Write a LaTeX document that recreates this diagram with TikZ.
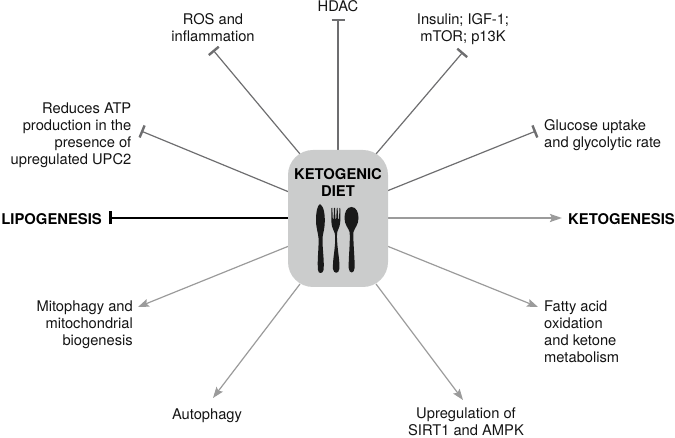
\documentclass[tikz,border=0pt]{standalone}
\usepackage{fontspec}
\setmainfont{TeX Gyre Heros}
\usetikzlibrary{arrows.meta}
\definecolor{boxgray}{RGB}{203,204,204}
\definecolor{inhib}{RGB}{110,110,112}
\definecolor{activ}{RGB}{155,155,155}
\definecolor{ink}{RGB}{20,20,20}
\tikzset{
  lab/.style={font=\fontsize{14.7}{16.9}\selectfont,text=ink,inner sep=0pt,align=#1},
  lab/.default=left,
  bold lab/.style={font=\fontsize{14.8}{17}\bfseries\selectfont,text=black,inner sep=0pt,align=center},
  inh/.style={draw=inhib,line width=1.2pt,-{Bar[width=13pt,line width=2.4pt]}},
  act/.style={draw=activ,line width=1.2pt,-{Stealth[length=11pt,width=8pt,inset=2pt]}},
  inhstrong/.style={draw=black,line width=2pt,-{Bar[width=13pt,line width=2.6pt]}},
  actstrong/.style={draw=activ,line width=2pt,-{Stealth[length=12pt,width=8pt,inset=2pt]}},
  cutlery/.style={fill=black!90,draw=none},
}
\begin{document}
\begin{tikzpicture}[x=1pt,y=-1pt]
\useasboundingbox (0,0) rectangle (675,438);
% free ends
\coordinate (eHDAC) at (338,19);
\coordinate (eROS) at (213,50);
\coordinate (eINS) at (463,52);
\coordinate (eATP) at (141,131);
\coordinate (eGLU) at (536,131);
\coordinate (eLIP) at (109,218);
\coordinate (eKET) at (562,218);
\coordinate (eMIT) at (138,307);
\coordinate (eAUT) at (213,398);
\coordinate (eUPR) at (463,400);
\coordinate (eFAT) at (538,307);
% starts on the box
\coordinate (sHDAC) at (338,152);
\coordinate (sROS) at (300,154);
\coordinate (sINS) at (376,154);
\coordinate (sATP) at (289,192);
\coordinate (sGLU) at (387,191);
\coordinate (sLIP) at (289,218);
\coordinate (sKET) at (387,218);
\coordinate (sMIT) at (289,246);
\coordinate (sAUT) at (300,284);
\coordinate (sUPR) at (376,284);
\coordinate (sFAT) at (387,246);
\draw[inh] (sHDAC) -- (eHDAC);
\draw[inh] (sROS) -- (eROS);
\draw[inh] (sINS) -- (eINS);
\draw[inh] (sATP) -- (eATP);
\draw[inh] (sGLU) -- (eGLU);
\draw[inhstrong] (sLIP) -- (eLIP);
\draw[actstrong] (sKET) -- (eKET);
\draw[act] (sMIT) -- (eMIT);
\draw[act] (sAUT) -- (eAUT);
\draw[act] (sUPR) -- (eUPR);
\draw[act] (sFAT) -- (eFAT);
% box
\node[fill=boxgray,rounded corners=25pt,minimum width=100pt,minimum height=137pt,inner sep=0pt] (box) at (338,218.5) {};
\node[bold lab] (title) at (338,182.5) {KETOGENIC\\DIET};
% knife
\path[cutlery] (320,204) .. controls (324,206) and (325.5,216) .. (324.5,226)
  .. controls (324,232) and (322.5,234) .. (322.5,240)
  .. controls (322.5,250) and (324.5,262) .. (323.5,270)
  .. controls (323,274) and (318,274) .. (318,270)
  .. controls (317,260) and (319,248) .. (318.5,238)
  .. controls (318,232) and (316,228) .. (316,220)
  .. controls (316,212) and (317.5,205) .. (320,204) -- cycle;
% fork
\path[cutlery] (331.5,208) -- (332.3,208) -- (332.8,219) -- (333.6,219) -- (334,208) -- (335,208) -- (335.4,219) -- (336.2,219) -- (336.8,208) -- (337.6,208) -- (338.2,219) -- (339,219) -- (339.5,208) -- (340.2,208)
  .. controls (340.8,218) and (340.5,226) .. (338,230)
  .. controls (336.8,232) and (336.8,236) .. (337.2,242)
  .. controls (337.8,252) and (340,262) .. (339.3,269)
  .. controls (339,274) and (333.5,274) .. (333,269)
  .. controls (332.5,260) and (335,250) .. (335.2,240)
  .. controls (335.4,234) and (334.6,232) .. (333.4,230)
  .. controls (331,226) and (331,218) .. (331.5,208) -- cycle;
% spoon
\path[cutlery] (351.5,207) .. controls (356,207) and (358.5,212) .. (358.5,218)
  .. controls (358.5,225) and (354.5,228) .. (353.5,232)
  .. controls (352.8,240) and (355,260) .. (354.6,268)
  .. controls (354.3,274) and (349,274) .. (348.7,268)
  .. controls (348.3,260) and (350.5,240) .. (349.6,232)
  .. controls (348.5,228) and (344.5,225) .. (344.5,218)
  .. controls (344.5,212) and (347,207) .. (351.5,207) -- cycle;
% labels
\node[lab=center] (tHDAC) at (338,6.5) {HDAC};
\node[lab=center] (tROS) at (213,28) {ROS and\\inflammation};
\node[lab=center] (tINS) at (463,29) {Insulin; IGF-1;\\mTOR; p13K};
\node[lab=right,anchor=east] (tATP) at (131.5,135) {Reduces ATP\\production in the\\presence of\\upregulated UPC2};
\node[lab=left,anchor=west] (tGLU) at (544,135) {Glucose uptake\\and glycolytic rate};
\node[bold lab,anchor=east] (tLIP) at (102,219) {LIPOGENESIS};
\node[bold lab,anchor=west] (tKET) at (568,219) {KETOGENESIS};
\node[lab=right,anchor=east] (tMIT) at (133,325) {Mitophagy and\\mitochondrial\\biogenesis};
\node[lab=center] (tAUT) at (207,415.5) {Autophagy};
\node[lab=center] (tUPR) at (466,421.5) {Upregulation of\\SIRT1 and AMPK};
\node[lab=left,anchor=west] (tFAT) at (544,332) {Fatty acid\\oxidation\\and ketone\\metabolism};
\end{tikzpicture}
\end{document}
